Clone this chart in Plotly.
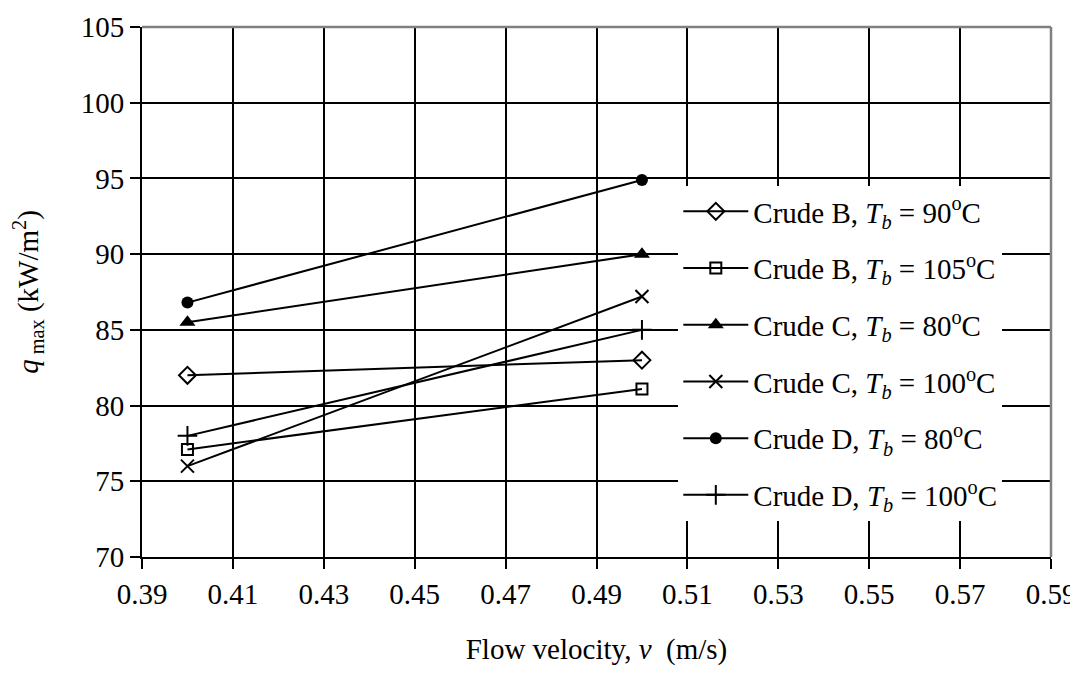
import plotly.graph_objects as go

velocity = [0.40, 0.50]
crude_b_90 = [82.0, 83.0]
crude_b_105 = [77.1, 81.1]
crude_c_80 = [85.5, 90.0]
crude_c_100 = [76.0, 87.2]
crude_d_80 = [86.8, 94.9]
crude_d_100 = [78.0, 85.0]

series = [
    ("Crude B, <i>T</i><sub><i>b</i></sub> = 90<sup>o</sup>C", crude_b_90,
     dict(symbol="diamond-open", size=13, line=dict(width=2, color="black"))),
    ("Crude B, <i>T</i><sub><i>b</i></sub> = 105<sup>o</sup>C", crude_b_105,
     dict(symbol="square-open", size=11, line=dict(width=2, color="black"))),
    ("Crude C, <i>T</i><sub><i>b</i></sub> = 80<sup>o</sup>C", crude_c_80,
     dict(symbol="triangle-up", size=14, line=dict(width=0))),
    ("Crude C, <i>T</i><sub><i>b</i></sub> = 100<sup>o</sup>C", crude_c_100,
     dict(symbol="x-thin", size=13, line=dict(width=2, color="black"))),
    ("Crude D, <i>T</i><sub><i>b</i></sub> = 80<sup>o</sup>C", crude_d_80,
     dict(symbol="circle", size=12, line=dict(width=0))),
    ("Crude D, <i>T</i><sub><i>b</i></sub> = 100<sup>o</sup>C", crude_d_100,
     dict(symbol="cross-thin", size=14, line=dict(width=2, color="black"))),
]

fig = go.Figure()
for i, (name, vals, mk) in enumerate(series):
    fig.add_trace(go.Scatter(
        x=velocity, y=vals, name=name, mode="lines+markers",
        line=dict(color="black", width=2),
        marker=dict(color="black", **mk),
        legendgroup=f"g{i}",
    ))

font_family = "Liberation Serif"

fig.update_layout(
    width=1078, height=673,
    margin=dict(l=134, r=35, t=19, b=124),
    paper_bgcolor="white", plot_bgcolor="white",
    font=dict(family=font_family, size=29, color="black"),
    showlegend=True,
    legend=dict(
        x=0.59, y=0.70, xanchor="left", yanchor="top",
        bgcolor="white", borderwidth=0,
        font=dict(family=font_family, size=29, color="black"),
        traceorder="grouped", tracegroupgap=16,
        itemwidth=65,
    ),
    xaxis=dict(
        range=[0.39, 0.59], tick0=0.39, dtick=0.02, tickformat=".2f",
        showgrid=True, gridcolor="black", gridwidth=1.5,
        showline=True, linecolor="black", linewidth=2,
        ticks="outside", ticklen=10, tickwidth=2, tickcolor="black",
        zeroline=False, automargin=False,
        tickfont=dict(family=font_family, size=29),
        title=dict(text="Flow velocity, <i>v</i>  (m/s)", standoff=30,
                   font=dict(family=font_family, size=29)),
    ),
    yaxis=dict(
        range=[70, 105], tick0=70, dtick=5,
        showgrid=True, gridcolor="black", gridwidth=1.5,
        showline=True, linecolor="black", linewidth=2,
        ticks="outside", ticklen=10, tickwidth=2, tickcolor="black",
        zeroline=False, automargin=False,
        tickfont=dict(family=font_family, size=29),
        title=dict(text="<i>q</i><sub> max</sub> (kW/m<sup>2</sup>)", standoff=35,
                   font=dict(family=font_family, size=29)),
    ),
)

fig.add_shape(type="line", xref="paper", yref="paper", x0=0, x1=1, y0=1, y1=1,
              line=dict(color="#808080", width=2.5))
fig.add_shape(type="line", xref="paper", yref="paper", x0=1, x1=1, y0=0, y1=1,
              line=dict(color="#808080", width=2.5))

fig.write_html("out.html")
